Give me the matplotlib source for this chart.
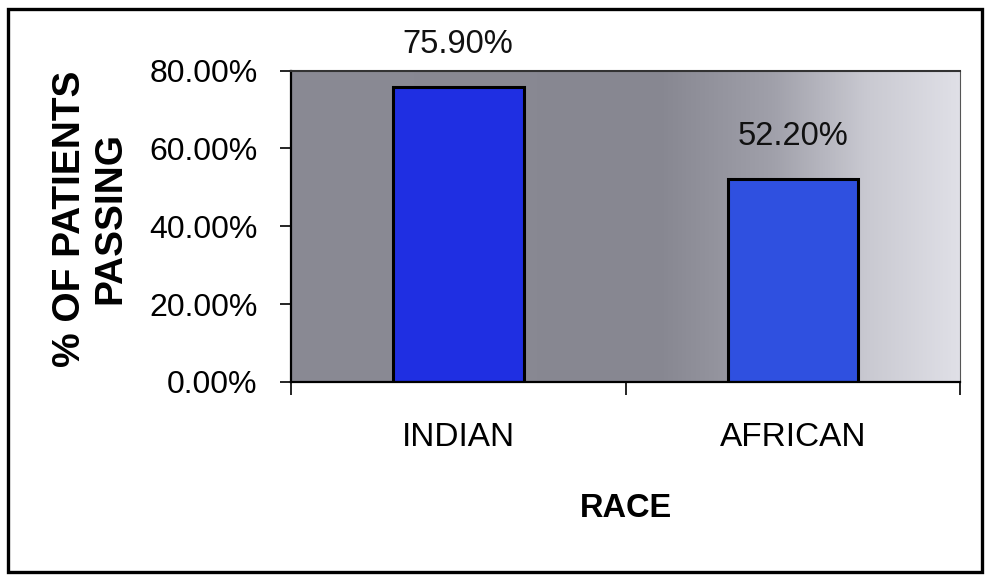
#!/usr/bin/env python3
"""
Bar chart: % of patients passing by race (scanned Excel style).
Saves out.png
"""
import numpy as np
import matplotlib
matplotlib.use('Agg')
import matplotlib.pyplot as plt
from matplotlib.colors import LinearSegmentedColormap
from matplotlib.patches import Rectangle

categories = ['INDIAN', 'AFRICAN']
pass_rate = [0.759, 0.522]
value_labels = ['75.90%', '52.20%']
y_ticks = [0.0, 0.2, 0.4, 0.6, 0.8]
y_tick_labels = ['0.00%', '20.00%', '40.00%', '60.00%', '80.00%']

bar_colors = ['#1f2fe2', '#2f50e0']
plt.rcParams['font.family'] = ['Liberation Sans', 'DejaVu Sans']

fig = plt.figure(figsize=(9.86, 5.75), dpi=100)
ax = fig.add_axes([0.295, 0.336, 0.679, 0.541])

# grey gradient backdrop of the plot area (dark left, pale right)
bg_cmap = LinearSegmentedColormap.from_list(
    'bg', [(0.0, '#8a8a94'), (0.55, '#878791'), (0.72, '#a0a0aa'),
           (0.86, '#c9c9d1'), (1.0, '#e0e0e7')])
grad = np.linspace(0, 1, 256).reshape(1, -1)
ax.imshow(grad, cmap=bg_cmap, aspect='auto', extent=(-0.5, 1.5, 0, 0.8),
          zorder=0)

x = np.arange(len(categories))
bars = ax.bar(x, pass_rate, width=0.39, color=bar_colors,
              edgecolor='black', linewidth=2.2, zorder=2)

for xi, v, lab in zip(x, pass_rate, value_labels):
    ax.annotate(lab, (xi, v), xytext=(0, 24), textcoords='offset points',
                ha='center', va='baseline', fontsize=23.5, color='#111111',
                annotation_clip=False)

ax.set_xlim(-0.5, 1.5)
ax.set_ylim(0, 0.8)

ax.set_yticks(y_ticks)
ax.set_yticklabels(y_tick_labels, fontsize=23)
ax.tick_params(axis='y', direction='out', length=8, width=1.2, pad=16)

# ticks on category boundaries, labels at the centres
ax.set_xticks([-0.5, 0.5, 1.5])
ax.set_xticklabels([])
ax.set_xticks(x, minor=True)
ax.set_xticklabels(categories, minor=True, fontsize=24)
ax.tick_params(axis='x', which='major', direction='out', length=9, width=1.2)
ax.tick_params(axis='x', which='minor', length=0, pad=29)

ax.set_xlabel('RACE', fontsize=23.5, fontweight='bold')
ax.xaxis.set_label_coords(0.5, -0.358)
ax.set_ylabel('% OF PATIENTS\nPASSING', fontsize=28, fontweight='bold',
              linespacing=1.15, va='center', ha='center')
ax.yaxis.set_label_coords(-0.30, 0.525)

for side in ['left', 'bottom']:
    ax.spines[side].set_linewidth(1.6)
    ax.spines[side].set_color('black')
ax.spines['top'].set_linewidth(1.5)
ax.spines['top'].set_color('#333333')
ax.spines['right'].set_linewidth(0.8)
ax.spines['right'].set_color('#555555')

# outer chart frame
fig.patches.append(Rectangle((0.008, 0.006), 0.988, 0.978, transform=fig.transFigure,
                             fill=False, edgecolor='black', linewidth=2.4))

fig.savefig('out.png', dpi=100)
plt.close(fig)
